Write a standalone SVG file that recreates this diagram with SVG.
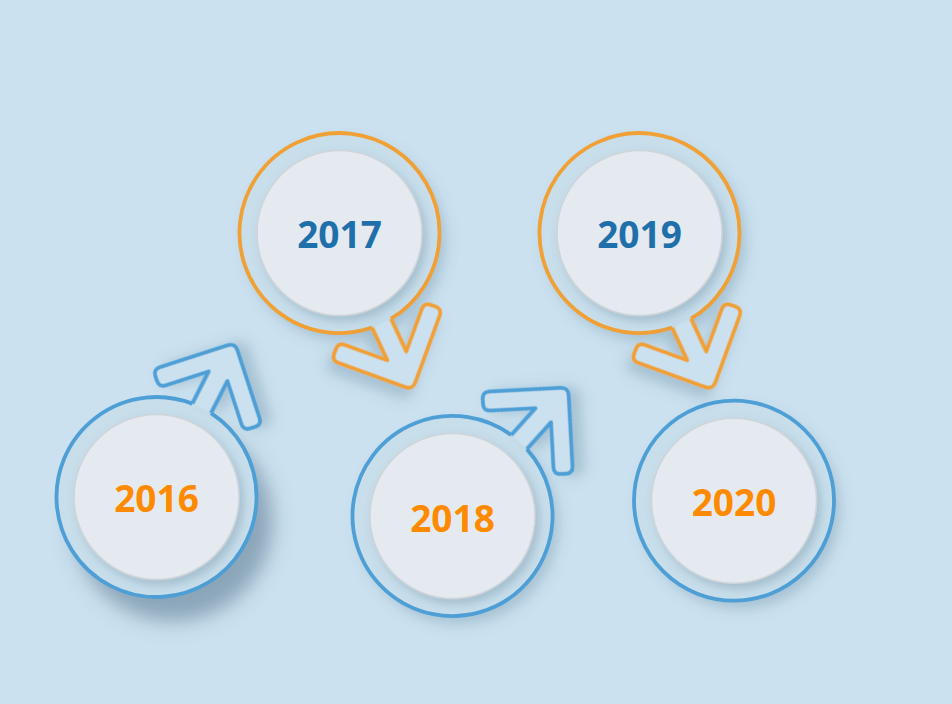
<svg xmlns="http://www.w3.org/2000/svg" width="952" height="704" viewBox="0 0 952 704">
  <defs>
    <filter id="sh" x="-30%" y="-30%" width="170%" height="170%">
      <feDropShadow dx="6" dy="8" stdDeviation="7" flood-color="#50748f" flood-opacity="0.3"/>
    </filter>
    <filter id="shStrong" x="-30%" y="-30%" width="170%" height="170%">
      <feDropShadow dx="16" dy="24" stdDeviation="10" flood-color="#4a6982" flood-opacity="0.5"/>
    </filter>
    <filter id="shInner" x="-30%" y="-30%" width="170%" height="170%">
      <feDropShadow dx="4" dy="5" stdDeviation="5" flood-color="#50748f" flood-opacity="0.3"/>
    </filter>
    <path id="arrowShape" d="M 99.45,-10.5 L 135.7,-10.5 L 103.55,-42.65 Q 98.8,-47.4 103.55,-52.15 L 107.45,-56.05 Q 112.2,-60.8 116.95,-56.05 L 167.34,-5.66 Q 173,0 167.34,5.66 L 116.95,56.05 Q 112.2,60.8 107.45,56.05 L 103.55,52.15 Q 98.8,47.4 103.55,42.65 L 135.7,10.5 L 99.45,10.5"/>
    <style>
      .disk { fill: #c8deeb; }
      .ring { fill: none; stroke-width: 3.8; }
      .arrow { fill: #cbe1ef; stroke-width: 3.8; stroke-linejoin: round; filter: url(#sh); }
      .blue { stroke: #4d9fd6; }
      .orange { stroke: #f0a035; }
      .inner { fill: #e4eaf0; stroke: #cfd4d8; stroke-width: 1.5; filter: url(#shInner); }
      .year { font-family: "Open Sans", "Noto Sans", sans-serif; font-weight: bold; font-size: 37px; text-anchor: middle; }
      .t-orange { fill: #ff8a00; }
      .t-blue { fill: #1f6fab; }
    </style>
  </defs>

  <rect x="0" y="0" width="952" height="704" fill="#cbe1ef"/>

  <g id="node-2016" transform="translate(156.5,497)">
    <circle r="100" class="disk" filter="url(#shStrong)"/>
    <path class="ring blue" transform="rotate(-63)" d="M 99.45,10.5 A 100 100 0 1 1 99.45,-10.5"/>
    <circle r="82.5" class="inner"/>
    <text class="year t-orange" x="0" y="14.5">2016</text>
  </g>

  <g id="node-2017" transform="translate(339.5,233)">
    <circle r="100" class="disk" filter="url(#sh)"/>
    <path class="ring orange" transform="rotate(65)" d="M 99.45,10.5 A 100 100 0 1 1 99.45,-10.5"/>
    <circle r="82.5" class="inner"/>
    <text class="year t-blue" x="0" y="15.3">2017</text>
  </g>

  <g id="node-2018" transform="translate(452.5,516)">
    <circle r="100" class="disk" filter="url(#sh)"/>
    <path class="ring blue" transform="rotate(-48)" d="M 99.45,10.5 A 100 100 0 1 1 99.45,-10.5"/>
    <circle r="82.5" class="inner"/>
    <text class="year t-orange" x="0" y="15.5">2018</text>
  </g>

  <g id="node-2019" transform="translate(639.5,233)">
    <circle r="100" class="disk" filter="url(#sh)"/>
    <path class="ring orange" transform="rotate(65)" d="M 99.45,10.5 A 100 100 0 1 1 99.45,-10.5"/>
    <circle r="82.5" class="inner"/>
    <text class="year t-blue" x="0" y="15.3">2019</text>
  </g>

  <g id="node-2020" transform="translate(734,500.7)">
    <circle r="100" class="disk" filter="url(#sh)"/>
    <circle r="100" class="ring blue"/>
    <circle r="82.5" class="inner"/>
    <text class="year t-orange" x="0" y="15.3">2020</text>
  </g>

  <g id="connectors">
    <use id="arrow-2016-2017" href="#arrowShape" class="arrow blue" transform="translate(156.5,497) rotate(-63)"/>
    <use id="arrow-2017-2018" href="#arrowShape" class="arrow orange" transform="translate(339.5,233) rotate(65)"/>
    <use id="arrow-2018-2019" href="#arrowShape" class="arrow blue" transform="translate(452.5,516) rotate(-48)"/>
    <use id="arrow-2019-2020" href="#arrowShape" class="arrow orange" transform="translate(639.5,233) rotate(65)"/>
  </g>
</svg>
